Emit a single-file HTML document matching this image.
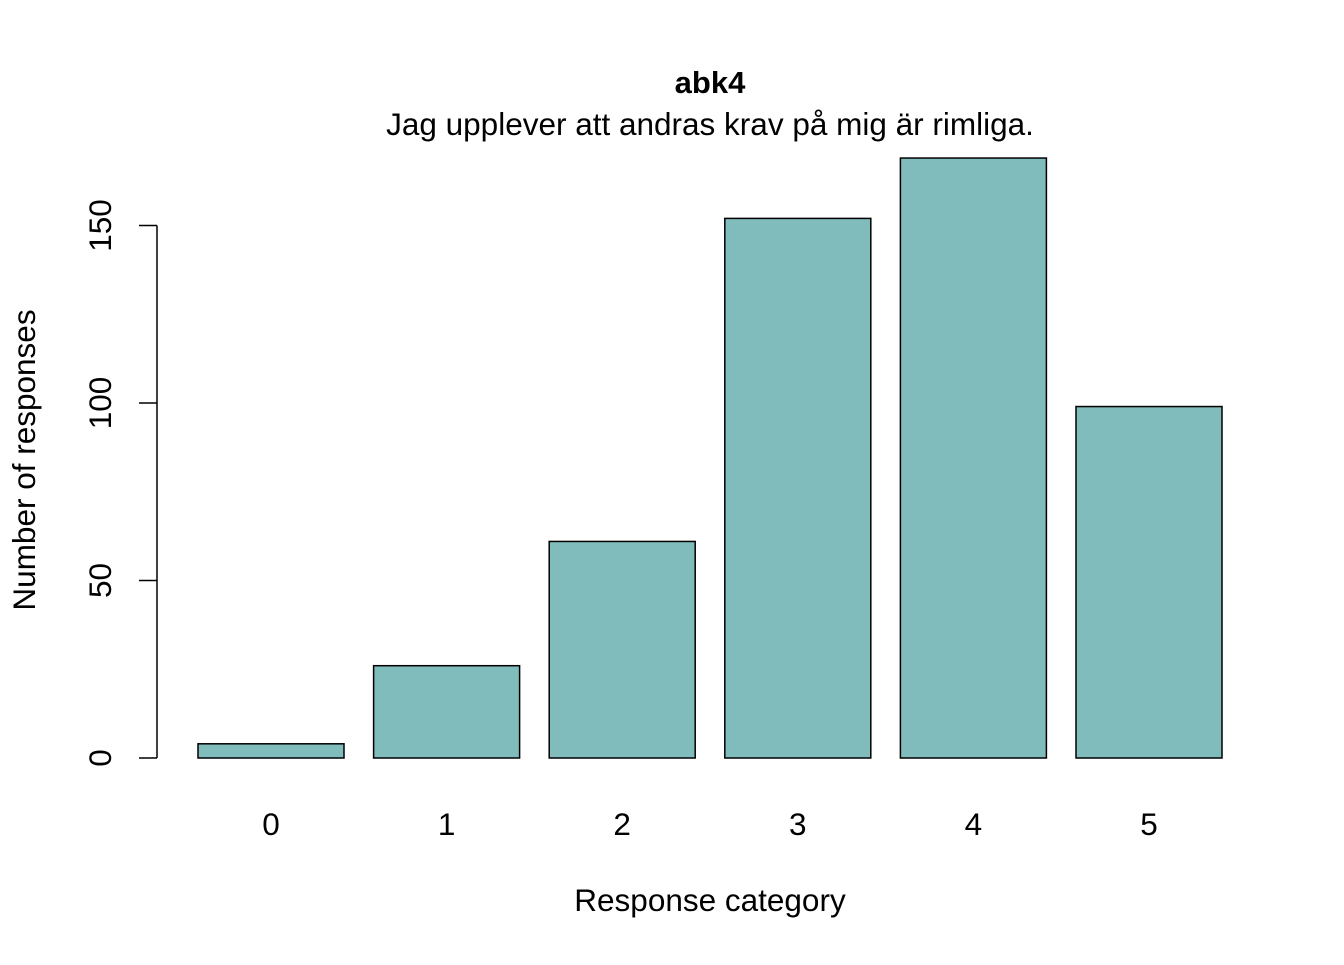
<!DOCTYPE html>
<html><head><meta charset="utf-8"><style>
body{margin:0;background:#fff}
svg text{font-family:"Liberation Sans",Arial,sans-serif;fill:#000}
</style></head><body>
<svg width="1344" height="960" xmlns="http://www.w3.org/2000/svg">
<text x="710" y="93" font-size="31" font-weight="bold" text-anchor="middle">abk4</text>
<text x="710" y="135" font-size="31.5" text-anchor="middle">Jag upplever att andras krav på mig är rimliga.</text>
<g id="bars"></g>
<g id="yaxis"></g>
<g id="xlabels"></g>
<text x="710" y="911" font-size="31.5" text-anchor="middle">Response category</text>
<text transform="translate(35,460) rotate(-90)" font-size="31.5" text-anchor="middle">Number of responses</text>
</svg>
<script>
const categories = ["0","1","2","3","4","5"];
const values = [4, 26, 61, 152, 169, 99];
const yTicks = [0, 50, 100, 150];
const NS = "http://www.w3.org/2000/svg";
const y0 = 758, pxPerUnit = 532.5/150;
function yScale(v){ return y0 - v*pxPerUnit; }
const barStart = 198, barStep = 175.6, barW = 146;
function xScale(i){ return barStart + i*barStep; }
const bars = document.getElementById('bars');
values.forEach((v,i)=>{
  const r = document.createElementNS(NS,'rect');
  r.setAttribute('x', xScale(i)); r.setAttribute('y', yScale(v));
  r.setAttribute('width', barW); r.setAttribute('height', y0 - yScale(v));
  r.setAttribute('fill', '#80bcbb'); r.setAttribute('stroke', '#000'); r.setAttribute('stroke-width', '1.5');
  
  
  bars.appendChild(r);
  const t = document.createElementNS(NS,'text');
  t.setAttribute('x', xScale(i) + barW/2); t.setAttribute('y', 835);
  t.setAttribute('font-size', '31.5'); t.setAttribute('text-anchor', 'middle');
  t.textContent = categories[i];
  
  
  document.getElementById('xlabels').appendChild(t);
});
const ya = document.getElementById('yaxis');
const axisLine = document.createElementNS(NS,'line');
axisLine.setAttribute('x1', 157); axisLine.setAttribute('x2', 157);
axisLine.setAttribute('y1', yScale(yTicks[0])); axisLine.setAttribute('y2', yScale(yTicks[yTicks.length-1]));
axisLine.setAttribute('stroke', '#000'); axisLine.setAttribute('stroke-width', '1.5');


ya.appendChild(axisLine);
yTicks.forEach(v=>{
  const l = document.createElementNS(NS,'line');
  l.setAttribute('x1', 139); l.setAttribute('x2', 157);
  l.setAttribute('y1', yScale(v)); l.setAttribute('y2', yScale(v));
  l.setAttribute('stroke', '#000'); l.setAttribute('stroke-width', '1.5');
  
  
  ya.appendChild(l);
  const t = document.createElementNS(NS,'text');
  t.setAttribute('transform', 'translate(111,' + yScale(v) + ') rotate(-90)');
  t.setAttribute('font-size', '31.5'); t.setAttribute('text-anchor', 'middle');
  t.textContent = v;
  
  
  ya.appendChild(t);
});
</script>
</body></html>
